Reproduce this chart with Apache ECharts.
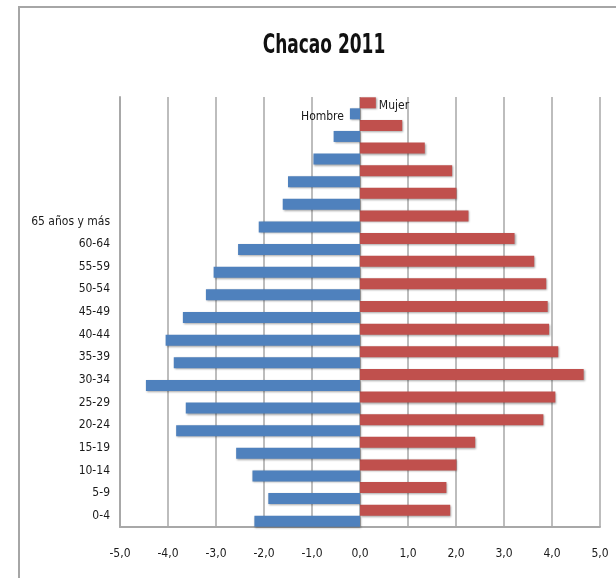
<!DOCTYPE html>
<html>
<head>
<meta charset="utf-8">
<script src="https://cdn.jsdelivr.net/npm/echarts@6/dist/echarts.min.js"></script>
<style>
    html, body { margin: 0; padding: 0; background: #fff; }
    #chart { width: 616px; height: 578px; }
</style>
</head>
<body>
<div id="chart"></div>
<script>
    // grupos de edad, de abajo hacia arriba (las filas de arriba no tienen etiqueta)
    const ageGroups = ['0-4', '5-9', '10-14', '15-19', '20-24', '25-29', '30-34', '35-39', '40-44',
        '45-49', '50-54', '55-59', '60-64', '65 años y más', '', '', '', '', '']
    // porcentajes
    const hombre = [-2.20, -1.91, -2.24, -2.58, -3.83, -3.63, -4.46, -3.88, -4.05,
        -3.69, -3.21, -3.05, -2.54, -2.11, -1.61, -1.50, -0.97, -0.55, -0.21]
    const mujer = [1.88, 1.80, 2.01, 2.40, 3.82, 4.07, 4.66, 4.13, 3.94,
        3.91, 3.88, 3.63, 3.22, 2.26, 2.01, 1.92, 1.35, 0.88, 0.33]
    const xTickLabels = ['-5,0', '-4,0', '-3,0', '-2,0', '-1,0', '0,0', '1,0', '2,0', '3,0', '4,0', '5,0']

    const narrow = "'Liberation Sans Narrow', 'DejaVu Sans Condensed', Arial, sans-serif"
    const last = ageGroups.length - 1

    // el nombre de la serie va como etiqueta en la barra de arriba
    function withName(values, pos, dist, offsetY) {
        return values.map((v, i) => i === last ? {
            value: v,
            label: {
                show: true,
                position: pos,
                distance: dist,
                offset: [0, offsetY],
                formatter: '{a}',
                color: '#1a1a1a',
                fontFamily: narrow,
                fontSize: 12
            }
        } : v)
    }

    const mChart = echarts.init(document.getElementById('chart'))
    const option = {
        animation: false,
        graphic: [
            {
                // marco del área del gráfico
                type: 'rect',
                shape: { x: 19, y: 7, width: 700, height: 700 },
                style: { fill: 'none', stroke: '#a6a6a6', lineWidth: 2 },
                silent: true
            },
            {
                // título (texto angosto y alto como en el original)
                type: 'text',
                x: 324,
                y: 46,
                scaleX: 0.7,
                style: {
                    text: 'Chacao 2011',
                    x: 0,
                    y: 0,
                    textAlign: 'center',
                    textVerticalAlign: 'middle',
                    fontFamily: narrow,
                    fontWeight: 'bold',
                    fontSize: 27,
                    fill: '#111'
                }
            }
        ],
        grid: {
            left: 120,
            right: 16,
            top: 97,
            bottom: 51
        },
        xAxis: {
            type: 'value',
            min: -5,
            max: 5,
            interval: 1,
            axisLine: {
                show: true,
                onZero: false,
                lineStyle: { color: '#a8a8a8', width: 2 }
            },
            axisTick: { show: false },
            axisLabel: {
                margin: 21,
                color: '#1a1a1a',
                fontFamily: narrow,
                fontSize: 12,
                formatter: v => xTickLabels[Math.round(v) + 5]
            },
            splitLine: {
                lineStyle: { color: '#bdbdbd', width: 2 }
            }
        },
        yAxis: {
            type: 'category',
            data: ageGroups,
            axisLine: {
                show: true,
                onZero: false,
                lineStyle: { color: '#a8a8a8', width: 2 }
            },
            axisTick: { show: false },
            axisLabel: {
                margin: 10,
                interval: 0,
                color: '#1a1a1a',
                fontFamily: narrow,
                fontSize: 12,
                padding: [9, 0, 0, 0]
            }
        },
        series: [
            {
                // va primero para quedar arriba en cada grupo
                name: 'Mujer',
                type: 'bar',
                barWidth: 11,
                barGap: '0%',
                itemStyle: {
                    color: '#c0504d',
                    shadowColor: 'rgba(0,0,0,0.35)',
                    shadowBlur: 2,
                    shadowOffsetX: 1,
                    shadowOffsetY: 1
                },
                data: withName(mujer, 'right', 3, 3)
            },
            {
                name: 'Hombre',
                type: 'bar',
                barWidth: 11,
                itemStyle: {
                    color: '#4f81bd',
                    shadowColor: 'rgba(0,0,0,0.35)',
                    shadowBlur: 2,
                    shadowOffsetX: 1,
                    shadowOffsetY: 1
                },
                data: withName(hombre, 'left', 6, 3)
            }
        ]
    }
    mChart.setOption(option)
    window.addEventListener('resize', function() {
        mChart.resize()
    })
</script>
</body>
</html>
